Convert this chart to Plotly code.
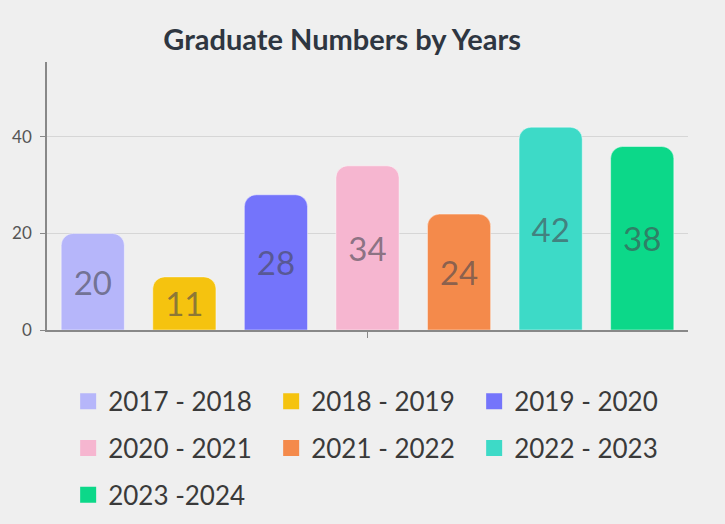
import plotly.graph_objects as go

years = ["2017 - 2018", "2018 - 2019", "2019 - 2020", "2020 - 2021",
         "2021 - 2022", "2022 - 2023", "2023 -2024"]
graduates = [20, 11, 28, 34, 24, 42, 38]
colors = ["#b6b6fa", "#f5c30f", "#7474fb", "#f6b6d0", "#f48a4b", "#3ddac7", "#0cd889"]
y_ticks = [0, 20, 40]

fig = go.Figure()
for i, (name, val, col) in enumerate(zip(years, graduates, colors)):
    fig.add_trace(go.Bar(
        x=[i], y=[val], name=name, width=0.69,
        marker=dict(color=col, cornerradius=12,
                    line=dict(color="rgba(255,255,255,0.45)", width=1)),
        texttemplate="%{y}", textposition="inside", insidetextanchor="middle",
        textangle=0, cliponaxis=False,
        textfont=dict(family="Lato", size=33, color="rgba(70,70,80,0.62)"),
        showlegend=False, legendgroup=name,
    ))
for name, col in zip(years, colors):
    fig.add_trace(go.Scatter(
        x=[None], y=[None], mode="markers", name=name, legendgroup=name,
        marker=dict(symbol="square", size=16, color=col),
    ))

fig.update_layout(
    width=725, height=524,
    paper_bgcolor="#efefef", plot_bgcolor="#efefef",
    margin=dict(l=39, r=37, t=62, b=194),
    barmode="overlay",
    title=dict(text="<b>Graduate Numbers by Years</b>", x=0.472, xanchor="center",
               y=0.924, yanchor="middle",
               font=dict(family="Lato", size=29, color="#2e3641")),
    font=dict(family="Lato", color="#444"),
    xaxis=dict(range=[-0.5, 6.5], tickvals=[3], ticktext=[""], ticks="outside",
               ticklen=6, tickcolor="#888", showgrid=False, zeroline=False,
               showline=True, linecolor="#888", linewidth=1.5, fixedrange=True),
    yaxis=dict(range=[0, 55.5], tickvals=y_ticks, ticks="outside", ticklen=5,
               tickcolor="#888", ticklabelstandoff=5,
               tickfont=dict(family="Lato", size=17, color="#555"),
               showgrid=True, gridcolor="#d6d6d6", gridwidth=1, zeroline=False,
               showline=True, linecolor="#888", linewidth=1.5),
    legend=dict(orientation="h", x=0.033, xanchor="left",
                yref="container", y=0.279, yanchor="top",
                entrywidth=158, entrywidthmode="pixels", itemsizing="trace",
                font=dict(family="Lato", size=26, color="#3a3a3a"),
                bgcolor="rgba(0,0,0,0)"),
)

fig.write_html("out.html", post_script="document.body.style.margin='0';",
               config={"displayModeBar": False})
